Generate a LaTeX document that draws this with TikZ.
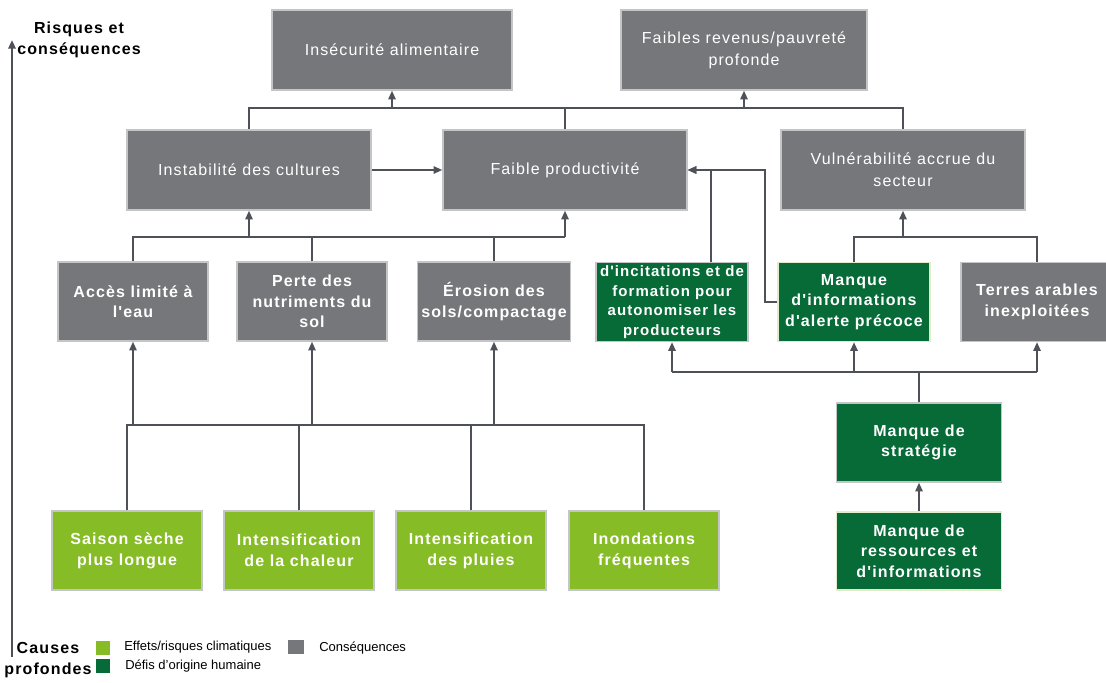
\documentclass[tikz,border=0pt]{standalone}
\usepackage{fontspec}
\setmainfont{Liberation Sans}
\newfontfamily\regsp{Liberation Sans}[LetterSpace=7]
\newfontfamily\boldsp{Liberation Sans}[LetterSpace=7]
\usetikzlibrary{arrows.meta}
\definecolor{cgrey}{HTML}{75777A}
\definecolor{cborder}{HTML}{C4C5C6}
\definecolor{cpale}{HTML}{E2ECCB}
\definecolor{cdark}{HTML}{076B38}
\definecolor{clight}{HTML}{86BC25}
\definecolor{cline}{HTML}{4E5157}
\begin{document}
\begin{tikzpicture}[x=0.75pt,y=-0.75pt,
  box/.style={draw=cborder, line width=1.1pt, inner sep=0pt, align=center, text=white},
  greytop/.style={box, fill=cgrey, font=\regsp\fontsize{12}{16.5}\selectfont, minimum width=183pt, minimum height=60pt},
  greybold/.style={box, fill=cgrey, font=\boldsp\bfseries\fontsize{12}{15.4}\selectfont, minimum width=112.5pt, minimum height=59.25pt},
  darkbox/.style={box, fill=cdark, font=\boldsp\bfseries\fontsize{12}{15.4}\selectfont, minimum width=114pt, minimum height=59.25pt},
  causebox/.style={box, fill=clight, font=\boldsp\bfseries\fontsize{12}{15.7}\selectfont, minimum width=112.5pt, minimum height=59.25pt},
  legsq/.style={inner sep=0pt, minimum width=10.5pt, minimum height=10.5pt},
  legtxt/.style={anchor=west, inner sep=0pt, font=\fontsize{9.75}{11}\selectfont},
  axlabel/.style={align=center, inner sep=0pt, font=\boldsp\bfseries\fontsize{12}{15.5}\selectfont},
  conn/.style={draw=cline, line width=1.3pt},
  arr/.style={conn, -{Triangle[length=6.5pt,width=5.5pt]}}]
\useasboundingbox (0,0) rectangle (1106,682);

% top row
\node[greytop, minimum width=180pt] (ins) at (392,50) {Insécurité alimentaire};
\node[greytop, minimum width=184.5pt] (rev) at (744,50) {Faibles revenus/pauvreté\\profonde};
% second row
\node[greytop] (instab) at (249,170) {Instabilité des cultures};
\node[greytop] (prod) at (565,170) {Faible productivité};
\node[greytop] (vuln) at (903,170) {Vulnérabilité accrue du\\secteur};
% third row
\node[greybold] (acces) at (133,301.5) {Accès limité à\\l'eau};
\node[greybold] (perte) at (312,301.5) {Perte des\\nutriments du\\sol};
\node[greybold, minimum width=114.75pt] (erosion) at (494,301.5) {Érosion des\\sols/compactage};
\node[darkbox, font=\boldsp\bfseries\fontsize{11.25}{14.6}\selectfont] (incit) at (672,302) {d'incitations et de\\formation pour\\autonomiser les\\producteurs};
\node[darkbox, draw=cpale] (info) at (854,302) {Manque\\d'informations\\d'alerte précoce};
\node[greybold, minimum width=114pt] (terres) at (1037,302) {Terres arables\\inexploitées};
% strategy column
\node[darkbox, minimum width=123.75pt] (strat) at (919,442.5) {Manque de\\stratégie};
\node[darkbox, draw=cpale, minimum width=123.75pt, minimum height=58.5pt] (ress) at (919,551) {Manque de\\ressources et\\d'informations};
% causes row
\node[causebox] (saison) at (127,550.5) {Saison sèche\\plus longue};
\node[causebox] (chaleur) at (299,550.5) {Intensification\\de la chaleur};
\node[causebox] (pluies) at (471,550.5) {Intensification\\des pluies};
\node[causebox] (inond) at (644,550.5) {Inondations\\fréquentes};

% bus coordinates
\coordinate (ub) at (0,108);
\coordinate (mb) at (0,237);
\coordinate (rb) at (0,372);
\coordinate (lb) at (0,425);
\coordinate (x711) at (711,0);
\coordinate (x765) at (765,0);

% upper bus
\draw[conn] (instab.north) |- (vuln.north |- ub) -- (vuln.north);
\draw[conn] (prod.north) -- (prod.north |- ub);
\draw[arr] (ins.south |- ub) -- (ins.south);
\draw[arr] (rev.south |- ub) -- (rev.south);
\draw[arr] (instab.east) -- (prod.west);

% middle bus
\draw[conn] (acces.north) |- (prod.south |- mb);
\draw[conn] (perte.north) -- (perte.north |- mb);
\draw[conn] (erosion.north) -- (erosion.north |- mb);
\draw[arr] (instab.south |- mb) -- (instab.south);
\draw[arr] (prod.south |- mb) -- (prod.south);
\draw[conn] (info.north) |- (terres.north |- mb) -- (terres.north);
\draw[arr] (vuln.south |- mb) -- (vuln.south);

% into faible productivite from the right
\draw[arr] (incit.north -| x711) |- (prod.east);
\draw[arr] (info.west) -| (x765 |- prod.east) -- (prod.east);

% strategy bus
\draw[conn] (strat.north) -- (strat.north |- rb);
\draw[conn] (incit.south |- rb) -- (terres.south |- rb);
\draw[arr] (incit.south |- rb) -- (incit.south);
\draw[arr] (info.south |- rb) -- (info.south);
\draw[arr] (terres.south |- rb) -- (terres.south);
\draw[arr] (ress.north) -- (strat.south);

% lower bus
\draw[conn] (saison.north) |- (inond.north |- lb) -- (inond.north);
\draw[conn] (chaleur.north) -- (chaleur.north |- lb);
\draw[conn] (pluies.north) -- (pluies.north |- lb);
\draw[arr] (acces.south |- lb) -- (acces.south);
\draw[arr] (perte.south |- lb) -- (perte.south);
\draw[arr] (erosion.south |- lb) -- (erosion.south);

% axis
\coordinate (axb) at (12,657);
\coordinate (axt) at (12,40);
\draw[arr, line width=1.7pt] (axb) -- (axt);
\node[axlabel] (risk) at (79,40) {Risques et\\conséquences};
\node[axlabel] (cause) at (48,660) {Causes\\profondes};

% legend
\node[legsq, fill=clight] (lg1) at (103,648) {};
\node[legtxt] (lt1) at (124,647) {Effets/risques climatiques};
\node[legsq, fill=cgrey, minimum width=12pt] (lg2) at (296,647) {};
\node[legtxt] (lt2) at (319,648) {Conséquences};
\node[legsq, fill=cdark] (lg3) at (103,666) {};
\node[legtxt] (lt3) at (125,666) {Défis d’origine humaine};
\end{tikzpicture}
\end{document}
